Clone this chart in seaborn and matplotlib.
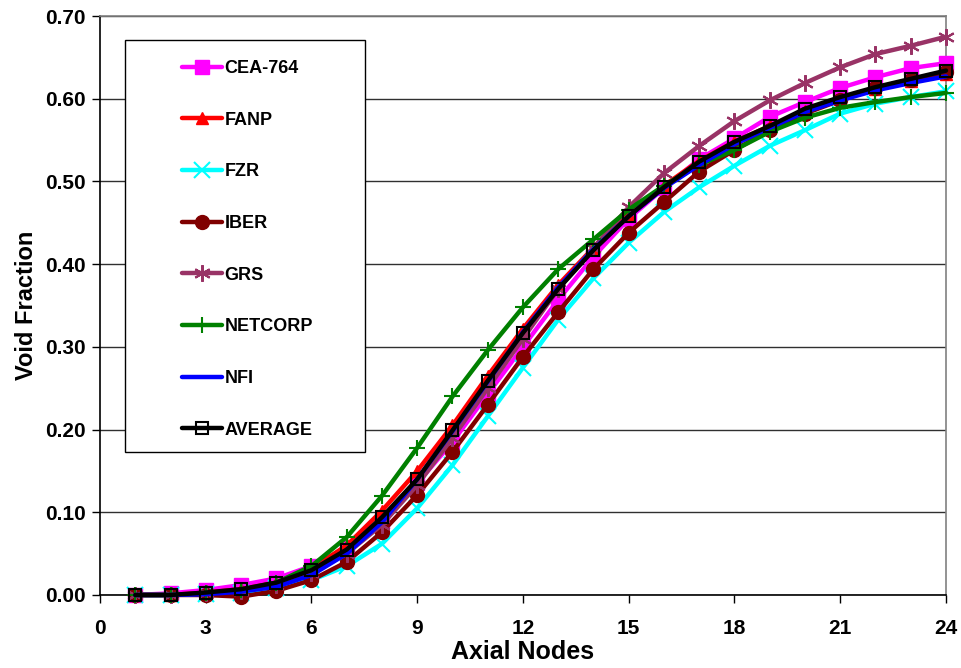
import matplotlib
matplotlib.use("Agg")
import matplotlib.pyplot as plt
import numpy as np
import pandas as pd
import seaborn as sns
from matplotlib.patches import Rectangle
from matplotlib.ticker import FormatStrFormatter

# axial node index 1..24
nodes = list(range(1, 25))

cea_764 = [0.000, 0.002, 0.006, 0.012, 0.020, 0.035, 0.057, 0.090, 0.135, 0.185,
           0.243, 0.300, 0.357, 0.409, 0.455, 0.492, 0.527, 0.552, 0.578, 0.596,
           0.613, 0.626, 0.637, 0.643]
fanp = [0.000, 0.000, 0.003, 0.007, 0.015, 0.032, 0.060, 0.102, 0.150, 0.205,
        0.265, 0.322, 0.375, 0.420, 0.460, 0.495, 0.525, 0.548, 0.567, 0.585,
        0.600, 0.612, 0.622, 0.630]
fzr = [0.000, 0.000, 0.001, 0.003, 0.008, 0.018, 0.035, 0.062, 0.105, 0.157,
       0.216, 0.275, 0.333, 0.383, 0.426, 0.463, 0.493, 0.519, 0.543, 0.562,
       0.582, 0.594, 0.602, 0.609]
iber = [0.000, 0.000, 0.000, -0.002, 0.005, 0.018, 0.040, 0.076, 0.121, 0.173,
        0.230, 0.288, 0.342, 0.394, 0.438, 0.475, 0.512, 0.538, 0.562, 0.582,
        0.598, 0.613, 0.623, 0.632]
grs = [0.000, 0.000, 0.002, 0.005, 0.012, 0.027, 0.050, 0.085, 0.133, 0.190,
       0.250, 0.310, 0.370, 0.420, 0.469, 0.510, 0.543, 0.573, 0.598, 0.619,
       0.638, 0.654, 0.664, 0.675]
netcorp = [0.000, 0.000, 0.002, 0.006, 0.015, 0.035, 0.070, 0.120, 0.178, 0.240,
           0.296, 0.348, 0.394, 0.430, 0.466, 0.495, 0.520, 0.538, 0.560, 0.577,
           0.589, 0.596, 0.602, 0.607]
nfi = [0.000, 0.000, 0.001, 0.004, 0.010, 0.024, 0.050, 0.088, 0.140, 0.198,
       0.258, 0.318, 0.372, 0.418, 0.458, 0.492, 0.520, 0.545, 0.565, 0.584,
       0.598, 0.610, 0.619, 0.627]
average = [0.000, 0.000, 0.003, 0.007, 0.015, 0.030, 0.055, 0.094, 0.140, 0.199,
           0.259, 0.317, 0.370, 0.417, 0.458, 0.493, 0.524, 0.548, 0.567, 0.588,
           0.602, 0.614, 0.624, 0.634]

x_ticks = list(range(0, 25, 3))
y_ticks = [0.0, 0.1, 0.2, 0.3, 0.4, 0.5, 0.6, 0.7]

series = {
    "CEA-764": cea_764,
    "FANP": fanp,
    "FZR": fzr,
    "IBER": iber,
    "GRS": grs,
    "NETCORP": netcorp,
    "NFI": nfi,
    "AVERAGE": average,
}

styles = {
    "CEA-764": dict(color="#FF00FF", marker="s", markersize=9.5, mfc="#FF00FF", mec="#FF00FF", mew=1),
    "FANP": dict(color="#FF0000", marker="^", markersize=9, mfc="#FF0000", mec="#FF0000", mew=1),
    "FZR": dict(color="#00FFFF", marker="x", markersize=11, mfc="#00FFFF", mec="#00FFFF", mew=1.5),
    "IBER": dict(color="#800000", marker="o", markersize=10, mfc="#800000", mec="#800000", mew=1),
    "GRS": dict(color="#993366", marker=(6, 2, 0), markersize=12, mfc="#993366", mec="#993366", mew=1.5),
    "NETCORP": dict(color="#008000", marker="+", markersize=12, mfc="#008000", mec="#008000", mew=1.5),
    "NFI": dict(color="#0000FF"),
    "AVERAGE": dict(color="#000000", marker="s", markersize=9, mfc="none", mec="#000000", mew=1.5),
}

df = pd.DataFrame({"node": nodes, **series})

sns.set_style("white")
plt.rcParams["font.family"] = ["Liberation Sans", "DejaVu Sans"]
plt.rcParams["font.weight"] = "bold"
for key in ["text.color", "axes.labelcolor", "xtick.color", "ytick.color"]:
    plt.rcParams[key] = "black"

fig = plt.figure(figsize=(9.62, 6.68), dpi=100)
ax = fig.add_axes([100 / 962, 1 - 595 / 668, 846 / 962, 579 / 668])

for name in series:
    sns.lineplot(data=df, x="node", y=name, ax=ax, label=name, linewidth=3.2,
                 clip_on=False, zorder=3, **styles[name])

ax.set_xlim(0, 24)
ax.set_ylim(0, 0.7)
ax.set_xticks(x_ticks)
ax.set_yticks(y_ticks)
ax.yaxis.set_major_formatter(FormatStrFormatter("%.2f"))
ax.tick_params(axis="both", labelsize=15, direction="out", length=6, width=1,
               color="black", labelcolor="black", bottom=True, left=True)
ax.tick_params(axis="x", pad=11)
ax.tick_params(axis="y", pad=4)
for lbl in ax.get_xticklabels() + ax.get_yticklabels():
    lbl.set_fontweight("bold")

ax.yaxis.grid(True, color="#303030", linewidth=1)
ax.xaxis.grid(False)
ax.set_axisbelow(True)

for side in ["left", "bottom"]:
    ax.spines[side].set_color("black")
    ax.spines[side].set_linewidth(1.2)
for side in ["right", "top"]:
    ax.spines[side].set_color("#808080")
    ax.spines[side].set_linewidth(1.2)

ax.set_xlabel("Axial Nodes", fontsize=18, fontweight="bold", labelpad=2, color="black")
ax.set_ylabel("Void Fraction", fontsize=17, fontweight="bold", labelpad=5, color="black")

# legend box drawn separately so it can be taller than the entries
ax.add_patch(Rectangle((25 / 846, (595 - 452) / 579), 240 / 846, 412 / 579,
                       transform=ax.transAxes, facecolor="white", edgecolor="black",
                       linewidth=1, zorder=4))
leg = ax.legend(loc="upper left", bbox_to_anchor=(82 / 846, (595 - 60) / 579),
                frameon=False, borderpad=0, borderaxespad=0,
                labelspacing=1.92, handlelength=2.2, handletextpad=0.15,
                prop={"weight": "bold", "size": 13})
for txt in leg.get_texts():
    txt.set_color("black")
leg.set_zorder(5)

fig.savefig("out.png", dpi=100)
